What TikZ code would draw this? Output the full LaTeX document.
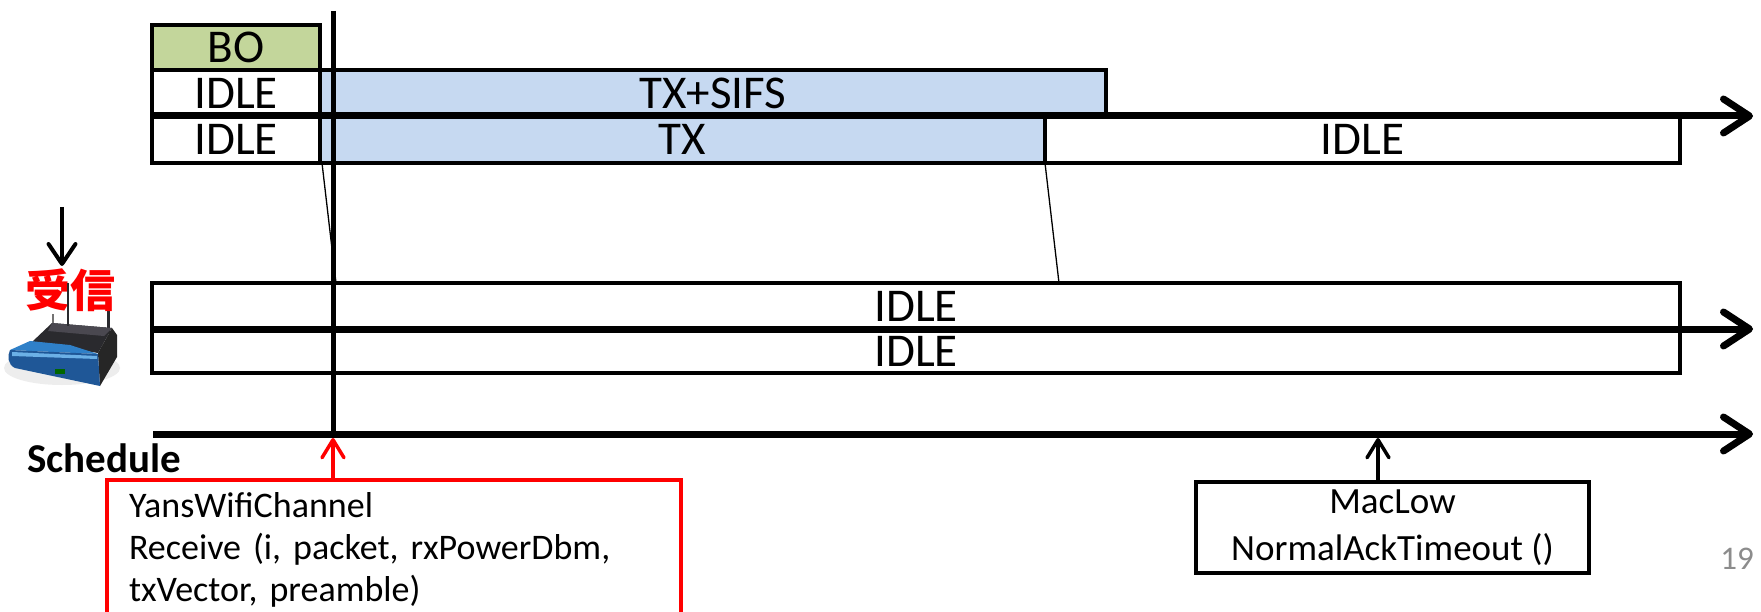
\documentclass[tikz,border=0pt]{standalone}
\usepackage{fontspec}
\setmainfont{Carlito}
\newfontfamily\cjk{Noto Sans CJK JP}
\usetikzlibrary{arrows.meta}
\definecolor{bogreen}{HTML}{C3D69B}
\definecolor{txblue}{HTML}{C6D9F1}
\definecolor{rtblue}{HTML}{1F5797}
\definecolor{rtblueL}{HTML}{2F80C8}
\definecolor{rtblueH}{HTML}{6BB0E6}
\definecolor{rtdark}{HTML}{2A2A2E}
\definecolor{rtdarkL}{HTML}{4A4850}
\definecolor{pggray}{HTML}{8C8C8C}
\begin{document}
\begin{tikzpicture}[x=1pt,y=-1pt,
  cell/.style={draw=black, line width=4.5pt, inner sep=0pt, outer sep=0pt,
    anchor=north west, font=\fontsize{47}{50}\selectfont},
  axis/.style={line width=7pt, -{Straight Barb[length=26pt,width=34pt,round]}},
  thin/.style={line width=1.3pt},
  callup/.style={line width=3.5pt, -{Straight Barb[length=18pt,width=22pt,round]}},
  labelbox/.style={line width=4.5pt, inner sep=0pt, outer sep=0pt,
    font=\fontsize{37}{47}\selectfont}
]
\useasboundingbox (0,0) rectangle (1761,612);
\clip (0,0) rectangle (1761,612);
\fill[white] (0,0) rectangle (1761,612);

% ---- sender rows ----
\node[cell, fill=bogreen, minimum width=168, minimum height=45] (bo) at (152,25) {BO};
\node[cell, minimum width=168, minimum height=46] (idle1) at (152,70) {IDLE};
\node[cell, minimum width=168, minimum height=47] (idle2) at (152,116) {IDLE};
\node[cell, fill=txblue, minimum width=786, minimum height=46] (txs) at (320,70) {TX+SIFS};
\node[cell, fill=txblue, minimum width=725, minimum height=47] (tx) at (320,116) {TX};
\node[cell, minimum width=635, minimum height=47] (idle3) at (1045,116) {IDLE};

% ---- receiver rows ----
\node[cell, minimum width=1528, minimum height=46] (rx1) at (152,283) {IDLE};
\node[cell, minimum width=1528, minimum height=44] (rx2) at (152,329) {IDLE};

% ---- axes ----
\coordinate (a1s) at (152,116); \coordinate (a1e) at (1753,116);
\coordinate (a2s) at (152,329); \coordinate (a2e) at (1753,329);
\coordinate (a3s) at (153,434); \coordinate (a3e) at (1753,434);
\draw[axis] (a1s) -- (a1e);
\draw[axis] (a2s) -- (a2e);
\draw[axis] (a3s) -- (a3e);

% ---- propagation lines ----
\coordinate (p1) at (322,163); \coordinate (q1) at (336,283);
\coordinate (q2) at (1059,283);
\draw[thin] (p1) -- (q1);
\draw[thin] (tx.south east) -- (q2);

% ---- current time line ----
\coordinate (vt) at (333,11); \coordinate (vb) at (333,434);
\draw[line width=5pt] (vt) -- (vb);

% ---- schedule label ----
\node[anchor=base west, inner sep=0pt, font=\bfseries\fontsize{41}{45}\selectfont] (sched) at (27,472) {Schedule};

% ---- red event box ----
\node[draw=red, line width=4pt, anchor=north west, inner sep=0pt, outer sep=0pt,
  minimum width=574, minimum height=140, text width=530, inner xsep=22pt,
  align=left, font=\fontsize{36}{42}\selectfont] (yans) at (107,480)
  {YansWifiChannel\\Receive (i, packet, rxPowerDbm,\\txVector, preamble)};
\coordinate (yarr) at (333,438);
\draw[callup, red] (yans.north -| yarr) -- (yarr);

% ---- MacLow box ----
\node[draw, labelbox, minimum width=393, minimum height=91, align=center] (mac) at (1392.5,527.5)
  {MacLow\\NormalAckTimeout ()};
\coordinate (marr) at (1378,438);
\draw[callup] (mac.north -| marr) -- (marr);

% ---- page number ----
\node[text=pggray, inner sep=0pt, font=\fontsize{33}{33}\selectfont] (pg) at (1737,559) {19};

% ---- router icon ----
\fill[black!7] (62,368) ellipse [x radius=58, y radius=17];
\draw[line width=2.5pt, black!55] (53,314) -- (53,332);
\draw[line width=3pt, rtdark] (108,308) -- (108,334);
% top surface
\fill[rtdark] (32,342) -- (52,323) -- (112,328) -- (98,353) -- cycle;
\fill[rtdarkL] (52,323) -- (112,328) -- (104,336) -- (48,331) -- cycle;
% right face
\fill[black!85] (112,328) -- (117,335) -- (117,357) -- (100,386) -- (98,353) -- cycle;
% blue front lip
\fill[rtblueL] (10,350) -- (30,341) -- (70,345) -- (98,354) -- cycle;
% blue front face
\fill[rtblue] (10,350) -- (98,354) -- (100,386) -- (15,368) .. controls (8,365) and (7,356) .. (10,350) -- cycle;
\fill[rtblueH] (12,352) -- (97,356) -- (97,359) -- (12,356) -- cycle;
\fill[black!60!green] (55,369) rectangle (65,374);

% ---- receive label and arrow ----
\node[text=red, inner sep=0pt, font=\cjk\bfseries\fontsize{45}{45}\selectfont] (jushin) at (70,290) {受信};
\draw[line width=2.5pt, rtdark] (68,283) -- (68,326);
\coordinate (d1) at (62,207); \coordinate (d2) at (62,266);
\draw[line width=4pt, -{Straight Barb[length=20pt,width=27pt,round]}] (d1) -- (d2);
\end{tikzpicture}
\end{document}
